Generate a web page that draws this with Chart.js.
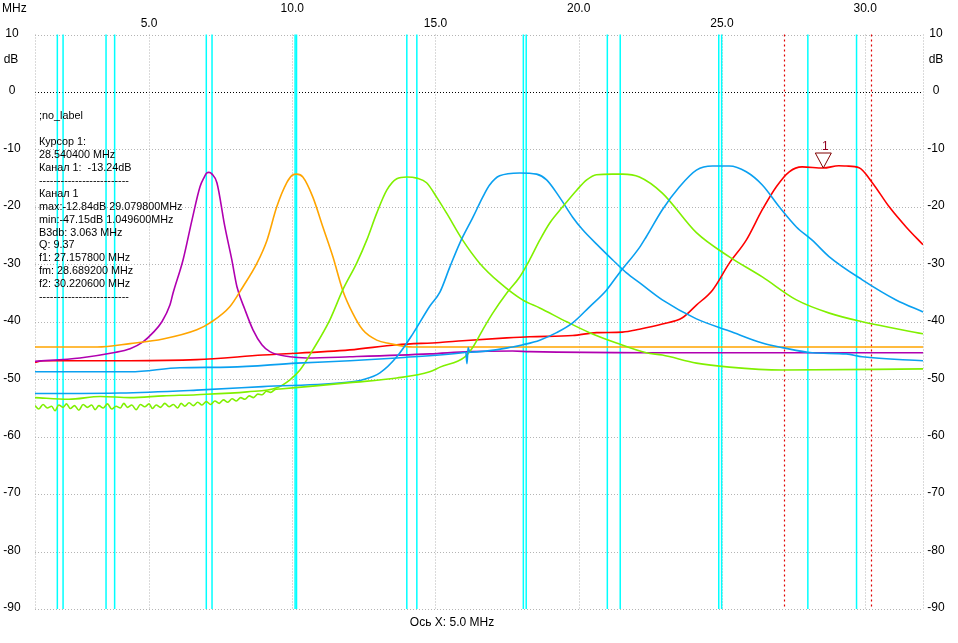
<!DOCTYPE html>
<html>
<head>
<meta charset="utf-8">
<script src="https://cdn.jsdelivr.net/npm/chart.js@4/dist/chart.umd.min.js"></script>
<style>
html,body{margin:0;padding:0;background:#fff;}
#wrap{width:958px;height:643px;}
</style>
</head>
<body>
<div id="wrap"><canvas id="c" width="958" height="643"></canvas></div>
<script>
// ---- axis ranges / ticks ----
const xMin = 1.02, xMax = 32.02;
const yMin = -90, yMax = 10;
const xTickValues = [5, 10, 15, 20, 25, 30];
const xTickLabels = ["5.0", "10.0", "15.0", "20.0", "25.0", "30.0"];
const yTickValues = [10, 0, -10, -20, -30, -40, -50, -60, -70, -80, -90];
const yTickLabels = ["10", "0", "-10", "-20", "-30", "-40", "-50", "-60", "-70", "-80", "-90"];

// ---- band markers (MHz) ----
const bandLines = [1.8, 2.0, 3.5, 3.8, 7.0, 7.2, 10.1, 10.15, 14.0, 14.35, 18.068, 18.168, 21.0, 21.45, 24.89, 24.99, 28.0, 29.7];
const cursorLines = [27.1578, 30.2206];
const cursorPoint = [28.5404, -13.24];

// ---- measured traces: [MHz, dB] ----
const purple = [[1.02,-46.9],[2.59,-46.3],[3.75,-45.4],[4.34,-44.7],[4.79,-43.5],[5.14,-41.9],[5.45,-40.0],[5.73,-37.1],[5.84,-35.0],[6.19,-29.2],[6.50,-22.3],[6.78,-16.5],[6.92,-14.9],[7.02,-14.1],[7.09,-14.0],[7.20,-14.3],[7.37,-15.8],[7.65,-23.5],[7.89,-29.2],[8.07,-33.9],[8.35,-37.9],[8.63,-41.4],[8.94,-44.0],[9.22,-45.2],[9.92,-46.1],[10.51,-46.3],[12.01,-46.1],[14.80,-45.6],[16.19,-45.2],[17.69,-45.1],[18.29,-45.2],[22.37,-45.4],[32.02,-45.4]];
const orange = [[1.02,-44.4],[3.19,-44.4],[4.34,-43.8],[5.49,-43.0],[6.67,-41.4],[7.13,-40.2],[7.82,-37.4],[8.28,-33.9],[8.77,-29.8],[9.12,-25.8],[9.46,-20.0],[9.81,-15.8],[10.00,-14.5],[10.16,-14.3],[10.37,-14.8],[10.72,-18.3],[11.07,-23.5],[11.42,-28.7],[11.76,-34.5],[12.11,-38.5],[12.46,-41.4],[12.95,-43.2],[13.40,-43.8],[14.21,-44.4],[32.02,-44.4]];
const green1 = [[1.02,-53.2],[2.2,-53.5],[3.3,-53.0],[4.34,-53.2],[5.5,-52.9],[6.67,-52.7],[8.42,-52.2],[9.46,-51.5],[9.92,-50.1],[10.27,-48.4],[10.72,-44.9],[11.31,-39.7],[11.76,-34.5],[12.25,-29.8],[12.60,-25.8],[12.95,-21.1],[13.30,-17.1],[13.65,-15.1],[14.00,-14.8],[14.35,-15.0],[14.69,-15.8],[15.04,-18.3],[15.39,-21.1],[15.95,-25.8],[16.54,-29.8],[17.24,-33.2],[18.04,-36.2],[18.64,-37.6],[19.58,-40.0],[20.38,-41.9],[21.32,-43.7],[22.36,-45.4],[22.92,-45.8],[24.11,-47.2],[25.26,-47.9],[27.11,-48.4],[32.02,-48.2]];
const green2 = [[1.02,-54.6],[1.15,-55.2],[1.3,-54.4],[1.45,-55.0],[1.6,-54.7],[1.72,-55.5],[1.85,-54.5],[2.0,-54.9],[2.12,-54.3],[2.25,-55.1],[2.4,-54.6],[2.55,-55.4],[2.7,-54.4],[2.85,-54.9],[3.0,-54.5],[3.12,-55.3],[3.25,-54.6],[3.4,-55.0],[3.55,-54.3],[3.7,-55.2],[3.85,-54.7],[4.0,-55.0],[4.12,-54.2],[4.25,-54.9],[4.4,-54.5],[4.55,-55.3],[4.7,-54.4],[4.85,-54.8],[5.0,-54.3],[5.12,-55.1],[5.25,-54.5],[5.4,-54.9],[5.55,-54.2],[5.7,-54.8],[5.85,-54.4],[6.0,-55.0],[6.12,-54.2],[6.25,-54.7],[6.4,-54.1],[6.55,-54.6],[6.7,-54.0],[6.85,-54.5],[7.0,-53.9],[7.15,-54.4],[7.3,-53.8],[7.45,-54.2],[7.6,-53.6],[7.75,-54.0],[7.9,-53.4],[8.05,-53.8],[8.2,-53.2],[8.35,-53.5],[8.5,-52.9],[8.65,-53.2],[8.8,-52.6],[8.95,-52.7],[9.1,-52.1],[9.25,-52.3],[9.4,-51.8],[9.57,-51.7],[10.72,-51.2],[12.01,-50.6],[13.65,-49.8],[14.80,-48.7],[15.16,-47.9],[16.03,-46.1],[16.31,-44.4],[16.65,-41.4],[17.00,-38.5],[17.49,-35.0],[17.94,-32.2],[18.29,-29.2],[18.64,-25.8],[18.99,-22.8],[19.44,-20.0],[19.93,-17.1],[20.28,-15.3],[20.62,-14.4],[21.18,-14.3],[21.53,-14.3],[22.12,-14.8],[22.92,-17.6],[24.11,-24.5],[25.26,-28.7],[26.41,-32.2],[27.60,-36.2],[28.75,-38.5],[29.90,-40.0],[32.02,-42.1]];
const blue1 = [[1.02,-52.5],[3.99,-52.4],[6.67,-51.9],[8.97,-51.3],[12.01,-50.5],[12.46,-50.1],[13.06,-48.9],[13.65,-46.1],[14.21,-42.1],[14.80,-37.3],[15.16,-34.8],[15.50,-30.5],[15.85,-26.3],[16.31,-21.8],[16.65,-18.3],[16.89,-16.2],[17.24,-14.6],[17.94,-14.1],[18.53,-14.3],[18.88,-15.3],[19.33,-18.3],[19.79,-21.8],[20.14,-24.0],[20.73,-27.0],[21.18,-29.2],[21.67,-31.5],[22.12,-33.2],[22.92,-36.2],[24.11,-39.5],[25.26,-41.6],[26.41,-43.7],[27.11,-44.5],[28.15,-45.4],[29.34,-45.6],[29.90,-46.1],[32.02,-46.8]];
const blue2 = [[1.02,-48.7],[4.34,-48.7],[6.08,-48.0],[7.82,-47.9],[10.16,-47.2],[12.01,-46.8],[13.65,-46.3],[15.95,-45.4],[16.06,-45.3],[16.10,-47.3],[16.14,-44.5],[16.20,-45.3],[17.69,-44.4],[18.06,-44.0],[18.64,-43.2],[19.23,-41.9],[19.79,-40.2],[20.38,-37.4],[20.97,-34.5],[21.42,-31.5],[22.12,-27.1],[22.36,-25.2],[22.92,-20.5],[23.52,-16.5],[24.11,-13.6],[24.67,-12.9],[25.26,-12.9],[25.85,-13.9],[26.41,-16.2],[27.00,-20.0],[27.60,-23.5],[28.15,-25.8],[28.75,-28.7],[29.90,-32.7],[31.08,-36.2],[32.02,-38.3]];
const red = [[1.02,-47.1],[1.30,-46.8],[4.34,-46.8],[6.67,-46.6],[8.97,-45.8],[12.01,-44.9],[13.65,-44.0],[15.16,-43.6],[15.95,-43.3],[17.49,-42.8],[18.29,-42.6],[19.79,-42.4],[20.62,-41.9],[21.53,-41.8],[22.12,-41.3],[22.92,-40.4],[23.62,-39.3],[24.11,-37.1],[24.67,-34.5],[25.26,-29.8],[25.85,-25.8],[26.41,-20.5],[26.90,-16.5],[27.35,-13.9],[27.80,-13.05],[28.54,-13.24],[29.08,-12.84],[29.34,-12.9],[29.79,-13.2],[30.25,-15.8],[30.84,-20.0],[31.43,-23.5],[32.02,-26.6]];

// ---- annotation text ----
const infoLines = [";no_label", "", "Курсор 1:", "28.540400 MHz", "Канал 1:  -13.24dB", "-------------------------", "Канал 1", "max:-12.84dB 29.079800MHz", "min:-47.15dB 1.049600MHz", "B3db: 3.063 MHz", "Q: 9.37", "f1: 27.157800 MHz", "fm: 28.689200 MHz", "f2: 30.220600 MHz", "-------------------------"];
const xAxisTitle = "Ось X: 5.0 MHz";
const xUnit = "MHz";
const yUnit = "dB";
const markerLabel = "1";

const toXY = a => a.map(p => ({x: p[0], y: p[1]}));
const traces = [
  {data: blue2, color: "#0AA0F0"},
  {data: green2, color: "#80F000"},
  {data: blue1, color: "#0AA0F0"},
  {data: green1, color: "#80F000"},
  {data: orange, color: "#FFA500"},
  {data: purple, color: "#B000B0"},
  {data: red, color: "#FF0000"}
];

const deco = {
  id: 'deco',
  beforeDatasetsDraw(chart) {
    const {ctx, chartArea: a, scales: {x, y}} = chart;
    ctx.save();
    ctx.lineWidth = 1;
    yTickValues.forEach(v => {
      const py = Math.round(y.getPixelForValue(v)) + 0.5;
      ctx.strokeStyle = v === 0 ? "#000000" : "#b4b4b4";
      ctx.setLineDash([1, 2]);
      ctx.beginPath(); ctx.moveTo(a.left, py); ctx.lineTo(a.right, py); ctx.stroke();
    });
    ctx.strokeStyle = "#b4b4b4";
    [xMin, ...xTickValues, xMax].forEach(v => {
      const px = Math.round(x.getPixelForValue(v)) + 0.5;
      ctx.beginPath(); ctx.moveTo(px, a.top); ctx.lineTo(px, a.bottom); ctx.stroke();
    });
    ctx.setLineDash([]);
    ctx.strokeStyle = "#00FFFF";
    ctx.lineWidth = 1.5;
    bandLines.forEach(v => {
      const px = x.getPixelForValue(v);
      ctx.beginPath(); ctx.moveTo(px, a.top); ctx.lineTo(px, a.bottom); ctx.stroke();
    });
    ctx.strokeStyle = "#E00000";
    ctx.lineWidth = 1.2;
    ctx.setLineDash([2, 3]);
    cursorLines.forEach(v => {
      const px = Math.round(x.getPixelForValue(v)) + 0.5;
      ctx.beginPath(); ctx.moveTo(px, a.top); ctx.lineTo(px, a.bottom); ctx.stroke();
    });
    ctx.restore();
  },
  afterDatasetsDraw(chart) {
    const {ctx, scales: {x, y}} = chart;
    ctx.save();
    const cx = x.getPixelForValue(cursorPoint[0]);
    const cy = y.getPixelForValue(cursorPoint[1]);
    ctx.strokeStyle = "#800000";
    ctx.lineWidth = 1;
    ctx.beginPath();
    ctx.moveTo(cx, cy); ctx.lineTo(cx - 8, cy - 15); ctx.lineTo(cx + 8, cy - 15); ctx.closePath();
    ctx.stroke();
    ctx.fillStyle = "#900020";
    ctx.font = "12px 'Liberation Sans', Arial, sans-serif";
    ctx.textAlign = "center"; ctx.textBaseline = "middle";
    ctx.fillText(markerLabel, cx + 2, cy - 21);

    ctx.fillStyle = "#000";
    ctx.font = "10.8px 'Liberation Sans', Arial, sans-serif";
    ctx.textAlign = "left"; ctx.textBaseline = "middle";
    infoLines.forEach((t, i) => { if (t) ctx.fillText(t, 39, 116 + 12.95 * i); });

    ctx.font = "12px 'Liberation Sans', Arial, sans-serif";
    ctx.textAlign = "center";
    yTickValues.forEach((v, i) => {
      const py = y.getPixelForValue(v) - 1;
      ctx.fillText(yTickLabels[i], 12, py);
      ctx.fillText(yTickLabels[i], 936, py);
    });
    ctx.fillText(yUnit, 11, 60);
    ctx.fillText(yUnit, 936, 60);
    xTickValues.forEach((v, i) => {
      const px = x.getPixelForValue(v);
      ctx.fillText(xTickLabels[i], px, i % 2 === 0 ? 24 : 9);
    });
    ctx.textAlign = "left";
    ctx.fillText(xUnit, 2, 9);
    ctx.textAlign = "center";
    ctx.fillText(xAxisTitle, 452, 623);
    ctx.restore();
  }
};

new Chart(document.getElementById('c'), {
  type: 'line',
  data: {
    datasets: traces.map(t => ({
      data: toXY(t.data),
      borderColor: t.color,
      borderWidth: 1.6,
      pointRadius: 0,
      cubicInterpolationMode: 'monotone',
      fill: false
    }))
  },
  options: {
    responsive: false,
    devicePixelRatio: 1,
    animation: false,
    layout: {padding: {left: 35, right: 35, top: 34.5, bottom: 34}},
    plugins: {legend: {display: false}, tooltip: {enabled: false}},
    scales: {
      x: {type: 'linear', min: xMin, max: xMax, display: false},
      y: {type: 'linear', min: yMin, max: yMax, display: false}
    }
  },
  plugins: [deco]
});
</script>
</body>
</html>
